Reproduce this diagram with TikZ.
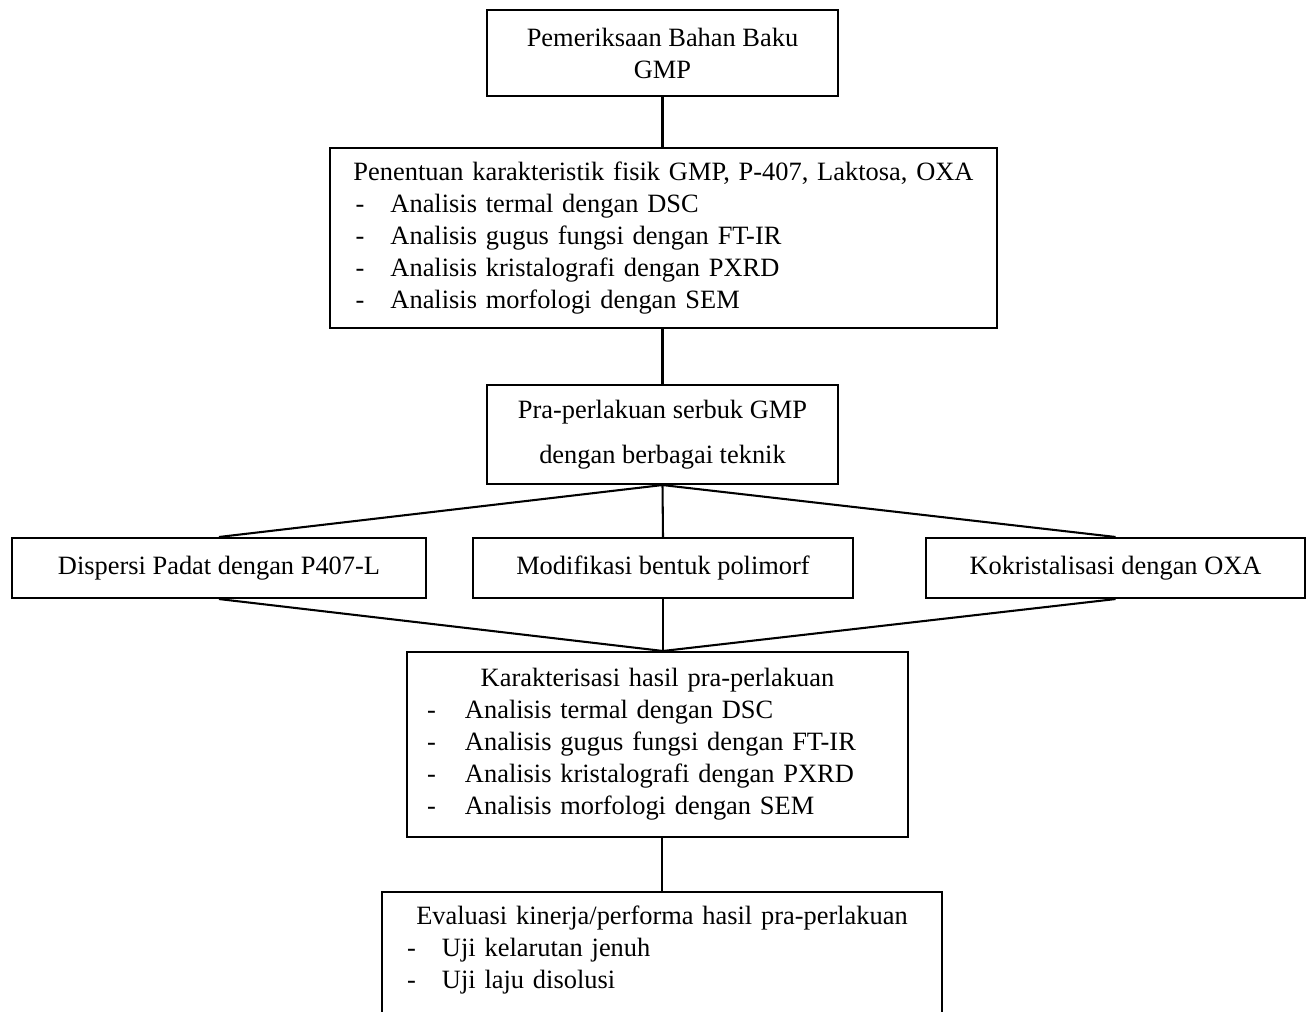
\documentclass[tikz,border=0pt]{standalone}
\usepackage{fontspec}
\setmainfont{Liberation Serif}
\newlength{\px}
\setlength{\px}{0.4353pt}
% one line of a list: width, indent, dash box, text
\newcommand{\butir}[4]{\makebox[#1\px][l]{\hspace*{#2\px}\makebox[#3\px][l]{-}#4}}
\begin{document}
\begin{tikzpicture}[x=0.4353pt,y=-0.4353pt,
    kotak/.style={draw, line width=0.9pt, inner sep=0pt, align=center,
      font=\fontsize{11.5}{13.9}\selectfont},
    garis/.style={line width=0.9pt}]
  \useasboundingbox (0,0) rectangle (1311,1011);
  % boxes
  \node[kotak, minimum width=351*\px, minimum height=86*\px] (periksa) at (662.5,53)
    {Pemeriksaan Bahan Baku\\GMP};
  \node[kotak, minimum width=667*\px, minimum height=180*\px, text width=650*\px] (tentu) at (663.5,238)
    {Penentuan karakteristik fisik GMP, P-407, Laktosa, OXA\\
     \butir{650}{17}{35}{Analisis termal dengan DSC}\\
     \butir{650}{17}{35}{Analisis gugus fungsi dengan FT-IR}\\
     \butir{650}{17}{35}{Analisis kristalografi dengan PXRD}\\
     \butir{650}{17}{35}{Analisis morfologi dengan SEM}};
  \node[kotak, minimum width=351*\px, minimum height=99*\px,
    font=\fontsize{11.5}{19.6}\selectfont] (praperlakuan) at (662.5,434.5)
    {Pra-perlakuan serbuk GMP\\dengan berbagai teknik};
  \node[kotak, minimum width=414*\px, minimum height=60*\px] (dispersi) at (219,568)
    {Dispersi Padat dengan P407-L};
  \node[kotak, minimum width=380*\px, minimum height=60*\px] (polimorf) at (663,568)
    {Modifikasi bentuk polimorf};
  \node[kotak, minimum width=379*\px, minimum height=60*\px] (kokristal) at (1115.5,568)
    {Kokristalisasi dengan OXA};
  \node[kotak, minimum width=501*\px, minimum height=185*\px, text width=461*\px] (karakter) at (657.5,744.5)
    {Karakterisasi hasil pra-perlakuan\\
     \butir{461}{0}{38}{Analisis termal dengan DSC}\\
     \butir{461}{0}{38}{Analisis gugus fungsi dengan FT-IR}\\
     \butir{461}{0}{38}{Analisis kristalografi dengan PXRD}\\
     \butir{461}{0}{38}{Analisis morfologi dengan SEM}};
  \node[kotak, minimum width=560*\px, text width=520*\px, inner ysep=13.5*\px, anchor=north] (evaluasi) at (662,891)
    {Evaluasi kinerja/performa hasil pra-perlakuan\\
     \butir{520}{5}{35}{Uji kelarutan jenuh}\\
     \butir{520}{5}{35}{Uji laju disolusi}\\
     \mbox{}};
  % connectors
  \draw[garis] (periksa.south) -- (periksa.south |- tentu.north);
  \draw[garis] (praperlakuan.north |- tentu.south) -- (praperlakuan.north);
  \foreach \k in {dispersi,polimorf,kokristal}
    \draw[garis] (praperlakuan.south) -- (\k.north);
  \coordinate (temu) at (polimorf.south |- karakter.north);
  \foreach \k in {dispersi,polimorf,kokristal}
    \draw[garis] (\k.south) -- (temu);
  \draw[garis] (evaluasi.north |- karakter.south) -- (evaluasi.north);
\end{tikzpicture}
\end{document}
